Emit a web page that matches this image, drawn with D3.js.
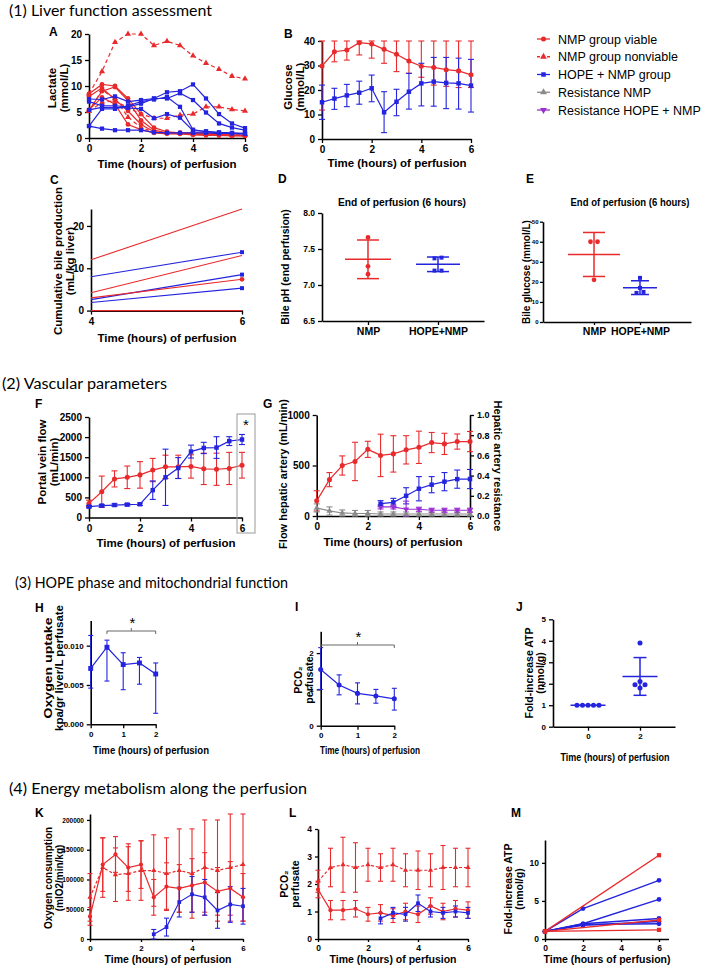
<!DOCTYPE html>
<html>
<head>
<meta charset="utf-8">
<title>Liver perfusion figure</title>
<script src="https://cdn.jsdelivr.net/npm/d3@7"></script>
<style>
  body { margin: 0; background: #fff; }
  svg { display: block; }
</style>
</head>
<body>
<svg id="fig" width="709" height="966"></svg>
<script>
// ---------- data ----------
var hours = [0, 0.5, 1, 1.5, 2, 2.5, 3, 3.5, 4, 4.5, 5, 5.5, 6];
var hoursNmpPhase = [2.5, 3, 3.5, 4, 4.5, 5, 5.5, 6];
var hoursHope = [0, 0.5, 1, 1.5, 2];

// A  lactate, one line per liver
var lactateViable = [
	[8.5, 10.3, 10.0, 7.6, 4.6, 2.0, 1.2, 1.0, 1.0, 1.0, 0.8, 0.6, 0.5],
	[5.3, 9.0, 9.8, 7.2, 3.4, 1.5, 1.0, 1.0, 0.8, 0.8, 0.6, 0.5, 0.5],
	[8.0, 9.6, 7.4, 5.2, 2.6, 1.2, 1.0, 0.8, 0.8, 0.6, 0.5, 0.5, 0.4],
	[5.4, 7.8, 6.5, 2.6, 1.6, 1.0, 0.8, 0.8, 0.6, 0.5, 0.5, 0.4, 0.4]
];
var lactateNonviable = [
	[8.5, 12.8, 18.4, 20.0, 20.0, 17.8, 18.6, 17.8, 15.8, 14.4, 13.2, 11.9, 11.4],
	[5.2, 6.8, 7.2, 5.8, 4.6, 3.8, 3.8, 4.4, 4.6, 6.0, 6.0, 5.5, 5.2],
	[5.2, 9.2, 7.6, 4.0, 2.0, 1.2, 1.0, 0.9, 0.8, 0.8, 0.7, 0.6, 0.6]
];
var lactateHope = [
	[7.5, 7.4, 8.0, 7.0, 7.3, 7.6, 8.8, 9.0, 10.3, 7.6, 4.6, 2.8, 1.9],
	[7.0, 6.2, 6.2, 6.0, 6.6, 7.6, 7.6, 8.6, 7.3, 4.9, 2.8, 2.0, 1.5],
	[5.4, 5.9, 5.9, 5.8, 5.6, 3.8, 4.6, 3.9, 1.4, 1.3, 1.1, 1.0, 0.9],
	[2.3, 1.8, 1.5, 1.5, 1.5, 1.1, 1.0, 1.0, 1.0, 1.0, 0.9, 0.9, 0.8],
	[2.3, 5.6, 5.6, 6.2, 7.0, 7.4, 7.9, 6.0, 1.6, 1.2, 1.0, 0.9, 0.8]
];

// B  glucose, mean with error range
var glucoseNmp   = [29.8, 35.6, 36.3, 39.3, 38.8, 36.6, 34.6, 31.8, 29.7, 29.2, 28.3, 27.8, 26.2];
var glucoseNmpLo = [11.8, 31.5, 32.2, 34.3, 33.0, 30.9, 27.5, 26.8, 25.2, 22.0, 21.5, 21.0, 21.0];
var glucoseNmpHi = [40, 40, 40, 40, 40, 40, 40, 40, 40, 40, 40, 40, 40];
var glucoseHope   = [15.0, 16.5, 17.8, 18.9, 20.7, 10.9, 15.2, 19.3, 22.7, 23.4, 22.9, 22.7, 21.8];
var glucoseHopeLo = [8.0, 12.1, 13.2, 14.2, 15.2, 2.6, 9.5, 12.2, 13.5, 13.4, 12.4, 12.2, 11.0];
var glucoseHopeHi = [22.0, 20.7, 22.3, 23.6, 26.1, 19.3, 20.3, 26.8, 30.9, 33.3, 33.3, 33.0, 32.5];

// C  cumulative bile production at 4 h and 6 h
var bileHours = [4, 6];
var bileNmp  = [[12, 24], [4.2, 13], [3.0, 7.4], [0, 0]];
var bileHope = [[8, 13.8], [2.6, 8.5], [1.9, 5.3]];

// D, E  end of perfusion
var groupsDE = ["NMP", "HOPE+NMP"];
var bilePhNmp  = [7.66, 7.26, 7.15];
var bilePhHope = [7.38, 7.37, 7.20, 7.20];
var bileGlucoseNmp  = [40, 40, 21];
var bileGlucoseHope = [22, 17, 15, 14.5];

// F  portal vein flow
var portalNmp    = [350, 640, 960, 1000, 1060, 1180, 1260, 1260, 1270, 1210, 1200, 1220, 1300];
var portalNmpSd  = [80, 390, 200, 280, 330, 290, 290, 290, 290, 390, 400, 400, 320];
var portalHope   = [270, 295, 310, 320, 330, 680, 1000, 1230, 1640, 1730, 1740, 1900, 1940];
var portalHopeSd = [30, 30, 30, 30, 30, 230, 700, 260, 160, 140, 270, 110, 125];

// G  hepatic artery flow (left axis) and resistance (right axis)
var arteryNmp    = [150, 360, 500, 540, 660, 600, 615, 655, 680, 727, 714, 737, 737];
var arteryNmpSd  = [100, 70, 95, 190, 80, 210, 180, 140, 160, 100, 105, 75, 100];
var arteryHope   = [122, 135, 200, 270, 310, 340, 365, 366];
var arteryHopeSd = [30, 40, 80, 120, 80, 90, 90, 95];
var resistNmp    = [0.08, 0.05, 0.03, 0.025, 0.025, 0.02, 0.02, 0.02, 0.02, 0.02, 0.02, 0.02, 0.02];
var resistNmpSd  = [0.04, 0.04, 0.03, 0.03, 0.03, 0.02, 0.02, 0.02, 0.02, 0.02, 0.02, 0.02, 0.02];
var resistHope   = [0.09, 0.09, 0.067, 0.067, 0.057, 0.057, 0.057, 0.057];
var resistHopeSd = [0.02, 0.02, 0.08, 0.02, 0.02, 0.02, 0.02, 0.02];

// H, I  HOPE phase
var o2Uptake   = [0.0071, 0.0098, 0.0076, 0.0078, 0.0064];
var o2UptakeLo = [0.0046, 0.0055, 0.0044, 0.0051, 0.0014];
var o2UptakeHi = [0.0113, 0.0107, 0.0091, 0.0085, 0.0078];
var pco2Hope   = [1.55, 1.12, 0.89, 0.82, 0.74];
var pco2HopeLo = [1.0, 0.85, 0.60, 0.62, 0.43];
var pco2HopeHi = [2.15, 1.40, 1.18, 1.00, 1.03];

// J  ATP fold increase
var groupsJ = ["0", "2"];
var atpStart = [1, 1, 1, 1, 1];
var atpTwoHours = [3.9, 2.1, 1.95, 1.95, 1.8];

// K  oxygen consumption
var o2ConsViable     = [38000, 125000, 142000, 120000, 125000, 70000, 88000, 85000, 90000, 95000, 80000, 85000, 70000];
var o2ConsViableSd   = [15000, 45000, 30000, 40000, 40000, 30000, 40000, 40000, 45000, 50000, 40000, 45000, 40000];
var o2ConsNonviable   = [70000, 120000, 108000, 110000, 115000, 115000, 110000, 115000, 110000, 120000, 115000, 120000, 125000];
var o2ConsNonviableSd = [40000, 50000, 45000, 45000, 50000, 60000, 60000, 70000, 75000, 80000, 85000, 90000, 95000];
var o2ConsHope   = [8000, 20000, 62000, 75000, 70000, 48000, 58000, 55000];
var o2ConsHopeSd = [8000, 15000, 25000, 30000, 30000, 30000, 30000, 30000];

// L  perfusate pCO2
var pco2Viable      = [1.8, 1.05, 1.05, 1.1, 0.9, 0.95, 0.85, 1.0, 0.9, 1.2, 1.0, 1.1, 1.05];
var pco2ViableSd    = [0.3, 0.35, 0.35, 0.3, 0.25, 0.3, 0.25, 0.3, 0.3, 0.3, 0.3, 0.3, 0.3];
var pco2Nonviable   = [2.1, 2.6, 2.7, 2.6, 2.7, 2.6, 2.7, 2.5, 2.5, 2.5, 2.6, 2.6, 2.6];
var pco2NonviableSd = [0.4, 0.7, 1.0, 0.9, 0.6, 0.5, 0.6, 0.6, 0.7, 0.6, 0.8, 0.7, 0.7];
var pco2HopeNmp     = [0.75, 0.95, 0.9, 1.3, 1.0, 0.95, 1.0, 0.95];
var pco2HopeNmpSd   = [0.2, 0.2, 0.25, 0.3, 0.2, 0.2, 0.2, 0.2];

// M  ATP along the perfusion
var atpHoursNmp = [0, 6];
var atpHoursHope = [0, 2, 6];
var atpNmpLivers = [[1, 11], [1, 2.5], [1, 1.2]];
var atpHopeLivers = [[1, 4, 7.7], [1, 2, 5.2], [1, 2, 2.7], [1, 1.8, 2.3], [1, 1.9, 2.0]];

var legendNames = ["NMP group viable", "NMP group nonviable", "HOPE + NMP group", "Resistance NMP", "Resistance HOPE + NMP"];

// ---------- drawing ----------
var RED = "#e92a2c", BLUE = "#2424de", GREY = "#8a8a8a", PURPLE = "#9a2fd2";
var FONT = "'Liberation Sans', Arial, Helvetica, sans-serif";
var svg = d3.select("#fig");
svg.append("rect").attr("width", 709).attr("height", 966).attr("fill", "#fff");

function styleAxis(g, fs) {
	g.select(".domain").attr("stroke", "#000").attr("stroke-width", 1.6);
	g.selectAll(".tick line").attr("stroke", "#000").attr("stroke-width", 1.3);
	g.selectAll("text").attr("font-family", FONT).attr("font-weight", "bold")
		.attr("font-size", fs).attr("fill", "#000");
}

function panel(o) {
	var x = o.cats
		? d3.scalePoint().domain(o.cats).range([o.l, o.r]).padding(o.pad)
		: d3.scaleLinear().domain(o.xd).range([o.l, o.r]);
	var y = d3.scaleLinear().domain(o.yd).range([o.b, o.t]);
	var ts = o.ts || 4;
	var xa = d3.axisBottom(x).tickSize(ts).tickSizeOuter(0);
	if (!o.cats) xa.tickValues(o.xt).tickFormat(d3.format("d"));
	var ya = d3.axisLeft(y).tickValues(o.yt).tickSize(ts).tickSizeOuter(0).tickFormat(d3.format(o.yf || "d"));
	if (o.ypad !== undefined) ya.tickPadding(o.ypad);
	styleAxis(svg.append("g").attr("transform", "translate(0," + o.b + ")").call(xa), o.xfs || o.fs || 10);
	styleAxis(svg.append("g").attr("transform", "translate(" + o.l + ",0)").call(ya), o.fs || 10);
	return { x: x, y: y };
}

function text(x, y, s, o) {
	o = o || {};
	var t = svg.append("text").attr("x", x).attr("y", y)
		.attr("font-family", o.family || FONT)
		.attr("font-weight", o.bold === false ? "normal" : "bold")
		.attr("font-size", o.fs || 12)
		.attr("text-anchor", o.anchor || "start")
		.text(s);
	if (o.len) t.attr("textLength", o.len).attr("lengthAdjust", "spacingAndGlyphs");
	return t;
}

// rotated axis title, one text per line; x is the visual centre of the first line
function vlabel(x, y, lines, fs, rot, lens) {
	rot = rot || -90;
	lines.forEach(function(s, i) {
		var bx = x + i * fs * 1.08 + (rot < 0 ? 0.34 : -0.34) * fs;
		var t = svg.append("text")
			.attr("transform", "translate(" + bx + "," + y + ") rotate(" + rot + ")")
			.attr("text-anchor", "middle").attr("font-family", FONT)
			.attr("font-weight", "bold").attr("font-size", fs).text(s);
		if (lens && lens[i]) t.attr("textLength", lens[i]).attr("lengthAdjust", "spacingAndGlyphs");
	});
}

function errorBars(p, xs, lo, hi, color, cap) {
	var yd = p.y.domain();
	var g = svg.append("g").attr("stroke", color).attr("stroke-width", 1.1);
	xs.forEach(function(t, i) {
		var cx = p.x(t);
		var a = p.y(Math.max(lo[i], yd[0])), b = p.y(Math.min(hi[i], yd[1]));
		g.append("line").attr("x1", cx).attr("x2", cx).attr("y1", a).attr("y2", b);
		g.append("line").attr("x1", cx - cap / 2).attr("x2", cx + cap / 2).attr("y1", a).attr("y2", a);
		g.append("line").attr("x1", cx - cap / 2).attr("x2", cx + cap / 2).attr("y1", b).attr("y2", b);
	});
}

function sdBars(p, xs, m, sd, color, cap) {
	errorBars(p, xs,
		m.map(function(v, i) { return v - sd[i]; }),
		m.map(function(v, i) { return v + sd[i]; }), color, cap);
}

function marks(p, pts, o) {
	svg.append("g").selectAll("path").data(pts).enter().append("path")
		.attr("transform", function(d) {
			return "translate(" + p.x(d[0]) + "," + p.y(d[1]) + ")" + (o.flip ? " rotate(180)" : "");
		})
		.attr("d", d3.symbol().type(o.sym).size(o.size || 20))
		.attr("fill", o.color);
}

function series(p, xs, ys, o) {
	var pts = xs.map(function(t, i) { return [t, ys[i]]; });
	svg.append("path").datum(pts)
		.attr("d", d3.line().x(function(d) { return p.x(d[0]); }).y(function(d) { return p.y(d[1]); }))
		.attr("fill", "none").attr("stroke", o.color).attr("stroke-width", o.w || 1.2)
		.attr("stroke-dasharray", o.dash || null);
	if (o.sym) marks(p, o.lastOnly ? pts.slice(-1) : pts, o);
}

// scatter dot plot with mean and SD
function dotPlot(p, cat, vals, o) {
	var cx = p.x(cat);
	var sorted = vals.slice().sort(d3.ascending);
	var groups = [];
	sorted.forEach(function(v) {
		var g = groups[groups.length - 1];
		if (g && Math.abs(p.y(v) - p.y(g[0])) < 3) g.push(v); else groups.push([v]);
	});
	var pts = [];
	groups.forEach(function(g) {
		g.forEach(function(v, i) { pts.push([cx + (i - (g.length - 1) / 2) * o.gap, p.y(v)]); });
	});
	var m = d3.mean(vals), sd = d3.deviation(vals) || 0;
	var g = svg.append("g").attr("stroke", o.color).attr("stroke-width", 1.5);
	g.append("line").attr("x1", cx - o.mw / 2).attr("x2", cx + o.mw / 2).attr("y1", p.y(m)).attr("y2", p.y(m));
	if (sd > 0) {
		g.append("line").attr("x1", cx).attr("x2", cx).attr("y1", p.y(m - sd)).attr("y2", p.y(m + sd));
		[m - sd, m + sd].forEach(function(v) {
			g.append("line").attr("x1", cx - o.cw / 2).attr("x2", cx + o.cw / 2).attr("y1", p.y(v)).attr("y2", p.y(v));
		});
	}
	svg.append("g").selectAll("path").data(pts).enter().append("path")
		.attr("transform", function(d) { return "translate(" + d[0] + "," + d[1] + ")"; })
		.attr("d", d3.symbol().type(o.sym).size(o.size || 18))
		.attr("fill", o.color);
}

function bracket(x1, x2, y, starY) {
	var g = svg.append("g").attr("stroke", "#666").attr("stroke-width", 1).attr("fill", "none");
	g.append("path").attr("d", "M" + x1 + "," + (y + 3) + "V" + y + "H" + x2 + "V" + (y + 3));
	g.append("line").attr("x1", (x1 + x2) / 2).attr("x2", (x1 + x2) / 2).attr("y1", y).attr("y2", y - 3);
	text((x1 + x2) / 2 + 1, starY, "*", { fs: 15, anchor: "middle", bold: false });
}

// section headings
var SEC = "Lato, 'Open Sans', sans-serif";
text(9, 16, "(1) Liver function assessment", { family: SEC, bold: false, fs: 15.5, len: 203 });
text(2, 389, "(2) Vascular parameters", { family: SEC, bold: false, fs: 15.5, len: 165 });
text(15, 588, "(3) HOPE phase and mitochondrial function", { family: SEC, bold: false, fs: 15.5, len: 273 });
text(9, 794, "(4) Energy metabolism along the perfusion", { family: SEC, bold: false, fs: 15.5, len: 298 });

// panel letters
[["A", 49, 36], ["B", 284, 38], ["C", 50, 184], ["D", 278, 183], ["E", 526, 183],
 ["F", 35, 408], ["G", 263, 408], ["H", 35, 612], ["I", 295, 611], ["J", 516, 611],
 ["K", 35, 817], ["L", 289, 817], ["M", 511, 817]].forEach(function(d) {
	text(d[1], d[2], d[0], { fs: 12 });
});

// ---- A ----
var pA = panel({ l: 89, r: 245, b: 138, t: 34, xd: [0, 6], yd: [0, 20], xt: [0, 2, 4, 6], yt: [0, 5, 10, 15, 20] });
lactateViable.forEach(function(v) { series(pA, hours, v, { color: RED, sym: d3.symbolCircle, size: 18 }); });
lactateNonviable.forEach(function(v) { series(pA, hours, v, { color: RED, dash: "4,3", sym: d3.symbolTriangle, size: 16 }); });
lactateHope.forEach(function(v) { series(pA, hours, v, { color: BLUE, sym: d3.symbolSquare, size: 18 }); });
vlabel(52, 88, ["Lactate", "(mmol/L)"], 11.5);
text(167, 168, "Time (hours) of perfusion", { fs: 11.5, anchor: "middle" });

// ---- B ----
var pB = panel({ l: 322, r: 471, b: 139, t: 41, xd: [0, 6], yd: [0, 40], xt: [0, 2, 4, 6], yt: [0, 10, 20, 30, 40] });
errorBars(pB, hours, glucoseNmpLo, glucoseNmpHi, RED, 6);
errorBars(pB, hours, glucoseHopeLo, glucoseHopeHi, BLUE, 6);
series(pB, hours, glucoseNmp, { color: RED, sym: d3.symbolCircle, size: 20 });
series(pB, hours, glucoseHope, { color: BLUE, sym: d3.symbolSquare, size: 20 });
vlabel(288, 87, ["Glucose", "(mmol/L)"], 11.5);
text(397, 167, "Time (hours) of perfusion", { fs: 11.5, anchor: "middle" });

// legend
var legendStyle = [
	{ color: RED, sym: d3.symbolCircle },
	{ color: RED, sym: d3.symbolTriangle, dash: "3,2" },
	{ color: BLUE, sym: d3.symbolSquare },
	{ color: GREY, sym: d3.symbolTriangle },
	{ color: PURPLE, sym: d3.symbolTriangle, flip: true }
];
var legendY = d3.scalePoint().domain(legendNames).range([39, 110]);
legendNames.forEach(function(name, i) {
	var s = legendStyle[i], yy = legendY(name);
	svg.append("line").attr("x1", 537).attr("x2", 550).attr("y1", yy).attr("y2", yy)
		.attr("stroke", s.color).attr("stroke-width", 1.3).attr("stroke-dasharray", s.dash || null);
	svg.append("path").attr("transform", "translate(543.5," + yy + ")" + (s.flip ? " rotate(180)" : ""))
		.attr("d", d3.symbol().type(s.sym).size(20)).attr("fill", s.color);
	text(558, yy + 4.5, name, { fs: 12.5, bold: false });
});

// ---- C ----
var pC = panel({ l: 91, r: 242, b: 310.6, t: 209, xd: [4, 6], yd: [0, 24], xt: [4, 6], yt: [0, 10, 20] });
bileHope.forEach(function(v) {
	series(pC, bileHours, v, { color: BLUE, sym: d3.symbolSquare, size: 16, lastOnly: true, w: 1.1 });
});
bileNmp.forEach(function(v, i) {
	series(pC, bileHours, v, i === 2 ? { color: RED, sym: d3.symbolCircle, size: 18, lastOnly: true, w: 1.1 } : { color: RED, w: 1.1 });
});
vlabel(58, 261, ["Cumulative bile production", "(mL/kg liver)"], 11.5);
text(167, 342, "Time (hours) of perfusion", { fs: 11.5, anchor: "middle" });

// ---- D ----
var pD = panel({ l: 322, r: 484, b: 321, t: 213, cats: groupsDE, pad: 0.657, yd: [6.5, 8.0],
	yt: [6.5, 7.0, 7.5, 8.0], yf: ".1f", fs: 8.5, xfs: 10.5 });
dotPlot(pD, "NMP", bilePhNmp, { color: RED, sym: d3.symbolCircle, gap: 7, mw: 46, cw: 22 });
dotPlot(pD, "HOPE+NMP", bilePhHope, { color: BLUE, sym: d3.symbolSquare, gap: 7, mw: 44, cw: 22, size: 16 });
text(402, 206, "End of perfusion (6 hours)", { fs: 10.5, anchor: "middle", len: 128 });
vlabel(285, 267, ["Bile pH (end perfusion)"], 10.5);

// ---- E ----
var pE = panel({ l: 543, r: 691, b: 322, t: 221.7, cats: groupsDE, pad: 1.109, yd: [0, 50],
	yt: [0, 10, 20, 30, 40, 50], fs: 6, xfs: 10.5, ts: 3, ypad: 1.5 });
dotPlot(pE, "NMP", bileGlucoseNmp, { color: RED, sym: d3.symbolCircle, gap: 7, mw: 52, cw: 22 });
dotPlot(pE, "HOPE+NMP", bileGlucoseHope, { color: BLUE, sym: d3.symbolSquare, gap: 7, mw: 34, cw: 18, size: 16 });
text(630, 206, "End of perfusion (6 hours)", { fs: 10.5, anchor: "middle", len: 119 });
vlabel(527, 272, ["Bile glucose (mmol/L)"], 10);

// ---- F ----
var pF = panel({ l: 89, r: 242, b: 517.5, t: 417, xd: [0, 6], yd: [0, 2500], xt: [0, 2, 4, 6], yt: [0, 500, 1000, 1500, 2000, 2500] });
sdBars(pF, hours, portalNmp, portalNmpSd, RED, 6);
sdBars(pF, hours, portalHope, portalHopeSd, BLUE, 6);
series(pF, hours, portalNmp, { color: RED, sym: d3.symbolCircle, size: 20 });
series(pF, hours, portalHope, { color: BLUE, sym: d3.symbolSquare, size: 20 });
svg.append("rect").attr("x", 237).attr("y", 414).attr("width", 18).attr("height", 119)
	.attr("fill", "none").attr("stroke", "#999").attr("stroke-width", 1);
text(246, 430, "*", { fs: 15, anchor: "middle", bold: false });
vlabel(42, 462, ["Portal vein flow", "(mL/min)"], 11.5);
text(166, 547, "Time (hours) of perfusion", { fs: 11.5, anchor: "middle" });

// ---- G ----
var pG = panel({ l: 316.7, r: 470, b: 516, t: 415, xd: [0, 6], yd: [0, 1000], xt: [0, 2, 4, 6], yt: [0, 500, 1000] });
var pGr = { x: pG.x, y: d3.scaleLinear().domain([0, 1]).range([516, 415]) };
styleAxis(svg.append("g").attr("transform", "translate(470,0)")
	.call(d3.axisRight(pGr.y).tickValues([0, 0.2, 0.4, 0.6, 0.8, 1.0]).tickSize(4).tickSizeOuter(0).tickFormat(d3.format(".1f"))), 9);
sdBars(pG, hours, arteryNmp, arteryNmpSd, RED, 6);
sdBars(pG, hoursNmpPhase, arteryHope, arteryHopeSd, BLUE, 6);
sdBars(pGr, hours, resistNmp, resistNmpSd, GREY, 6);
sdBars(pGr, hoursNmpPhase, resistHope, resistHopeSd, PURPLE, 6);
series(pGr, hours, resistNmp, { color: GREY, sym: d3.symbolTriangle, size: 16 });
series(pGr, hoursNmpPhase, resistHope, { color: PURPLE, sym: d3.symbolTriangle, size: 16, flip: true });
series(pG, hours, arteryNmp, { color: RED, sym: d3.symbolCircle, size: 20 });
series(pG, hoursNmpPhase, arteryHope, { color: BLUE, sym: d3.symbolSquare, size: 20 });
vlabel(283.5, 474, ["Flow hepatic artery (mL/min)"], 11);
vlabel(497.5, 466, ["Hepatic artery resistance"], 11, 90);
text(393, 546, "Time (hours) of perfusion", { fs: 11.5, anchor: "middle" });

// ---- H ----
var pH = panel({ l: 90.7, r: 155.7, b: 724.3, t: 620.5, xd: [0, 2], yd: [0, 0.0132], xt: [0, 1, 2],
	yt: [0, 0.005, 0.010], yf: ".3f", fs: 8 });
errorBars(pH, hoursHope, o2UptakeLo, o2UptakeHi, BLUE, 5);
series(pH, hoursHope, o2Uptake, { color: BLUE, sym: d3.symbolSquare, size: 24 });
bracket(pH.x(0.5), pH.x(2), 631, 628);
vlabel(48, 668, ["Oxygen uptake", "kpa/gr liver/L perfusate"], 10.5, -90, [101, 126]);
text(151, 754, "Time (hours) of perfusion", { fs: 11, anchor: "middle", len: 116 });

// ---- I ----
var pI = panel({ l: 320.7, r: 394.3, b: 725.7, t: 631.3, xd: [0, 2], yd: [0, 2.6], xt: [0, 1, 2], yt: [0, 1, 2], fs: 8 });
errorBars(pI, hoursHope, pco2HopeLo, pco2HopeHi, BLUE, 5);
series(pI, hoursHope, pco2Hope, { color: BLUE, sym: d3.symbolCircle, size: 20 });
bracket(pI.x(0), pI.x(2), 645, 642);
vlabel(298, 680, ["PCO\u2082", "perfusate"], 10.5);
text(370, 754, "Time (hours) of perfusion", { fs: 11, anchor: "middle", len: 100 });

// ---- J ----
var pJ = panel({ l: 553, r: 675, b: 726.7, t: 619.3, cats: groupsJ, pad: 0.673, yd: [0, 5], yt: [0, 1, 2, 3, 4, 5], fs: 8 });
dotPlot(pJ, "0", atpStart, { color: BLUE, sym: d3.symbolCircle, gap: 5.5, mw: 35, cw: 13, size: 20 });
dotPlot(pJ, "2", atpTwoHours, { color: BLUE, sym: d3.symbolCircle, gap: 10, mw: 35, cw: 13, size: 20 });
vlabel(529, 673, ["Fold-increase ATP", "(nmol/g)"], 10.5);
text(615, 761, "Time (hours) of perfusion", { fs: 11, anchor: "middle", len: 109 });

// ---- K ----
var pK = panel({ l: 90, r: 243, b: 939, t: 814, xd: [0, 6], yd: [0, 210000], xt: [0, 2, 4, 6],
	yt: [0, 50000, 100000, 150000, 200000], fs: 6.5, xfs: 8, ts: 3 });
sdBars(pK, hours, o2ConsNonviable, o2ConsNonviableSd, RED, 5);
sdBars(pK, hours, o2ConsViable, o2ConsViableSd, RED, 5);
sdBars(pK, hoursNmpPhase, o2ConsHope, o2ConsHopeSd, BLUE, 5);
series(pK, hours, o2ConsNonviable, { color: RED, dash: "3,2", sym: d3.symbolTriangle, size: 12 });
series(pK, hours, o2ConsViable, { color: RED, sym: d3.symbolCircle, size: 14 });
series(pK, hoursNmpPhase, o2ConsHope, { color: BLUE, sym: d3.symbolSquare, size: 14 });
vlabel(49, 878, ["Oxygen consumption", "(mlO2/min/kg)"], 10);
text(168, 963, "Time (hours)  of perfusion", { fs: 10.5, anchor: "middle" });

// ---- L ----
var pL = panel({ l: 318, r: 468, b: 939, t: 829, xd: [0, 6], yd: [0, 4], xt: [0, 2, 4, 6], yt: [0, 1, 2, 3, 4], fs: 8.5, ts: 3 });
sdBars(pL, hours, pco2Nonviable, pco2NonviableSd, RED, 5);
sdBars(pL, hours, pco2Viable, pco2ViableSd, RED, 5);
sdBars(pL, hoursNmpPhase, pco2HopeNmp, pco2HopeNmpSd, BLUE, 5);
series(pL, hours, pco2Nonviable, { color: RED, dash: "3,2", sym: d3.symbolTriangle, size: 12 });
series(pL, hours, pco2Viable, { color: RED, sym: d3.symbolCircle, size: 14 });
series(pL, hoursNmpPhase, pco2HopeNmp, { color: BLUE, sym: d3.symbolSquare, size: 14 });
vlabel(284, 884, ["PCO\u2082", "perfusate"], 10.5);
text(393, 963, "Time (hours) of perfusion", { fs: 10.5, anchor: "middle" });

// ---- M ----
var pM = panel({ l: 545, r: 668.5, b: 939, t: 840, xd: [0, 6.5], yd: [0, 13], xt: [0, 2, 4, 6], yt: [0, 5, 10], fs: 8.5, ts: 3 });
atpHopeLivers.forEach(function(v) { series(pM, atpHoursHope, v, { color: BLUE, sym: d3.symbolCircle, size: 18, w: 1.4 }); });
atpNmpLivers.forEach(function(v) { series(pM, atpHoursNmp, v, { color: RED, sym: d3.symbolSquare, size: 18, w: 1.4 }); });
vlabel(508, 889, ["Fold-increase ATP", "(nmol/g)"], 10.5);
text(607, 963, "Time (hours of perfusion)", { fs: 10.5, anchor: "middle" });
</script>
</body>
</html>
